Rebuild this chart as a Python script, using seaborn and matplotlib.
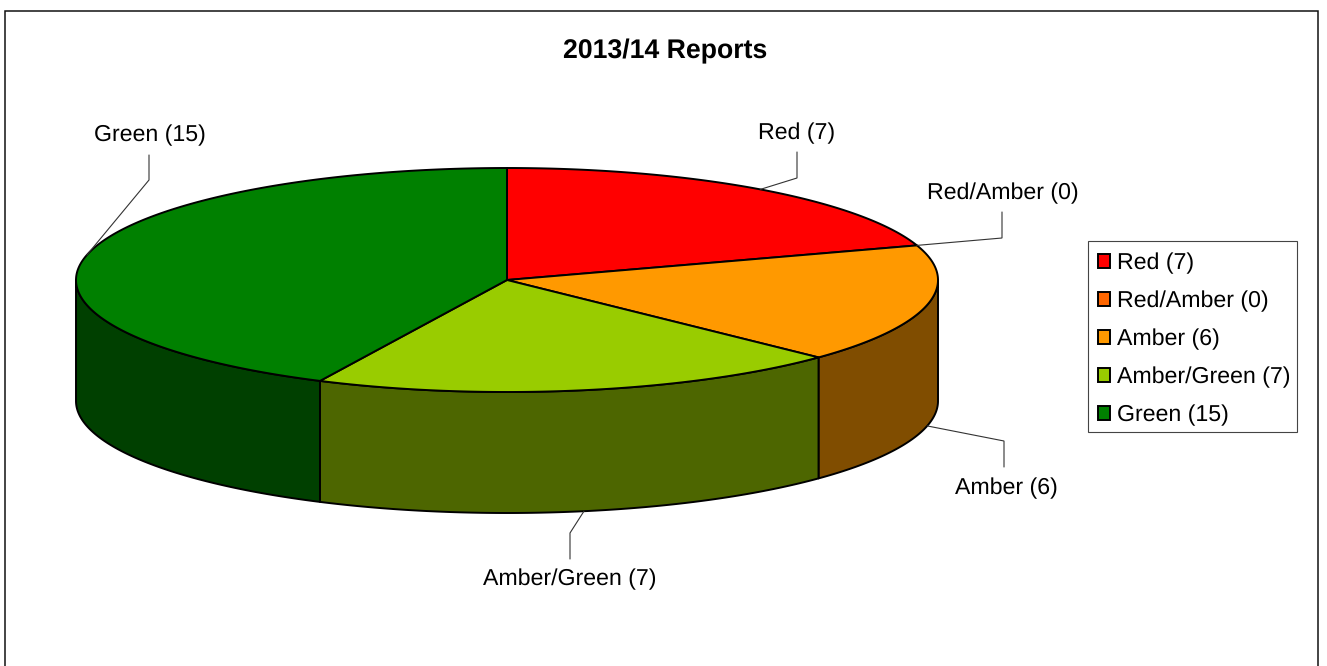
import numpy as np
import matplotlib
matplotlib.use("Agg")
import matplotlib.pyplot as plt
from matplotlib.patches import Patch, Polygon, Rectangle
import seaborn as sns

# Report counts by RAG status
categories = ["Red", "Red/Amber", "Amber", "Amber/Green", "Green"]
counts = [7, 0, 6, 7, 15]
slice_hex = ["#FF0000", "#FF6600", "#FF9900", "#99CC00", "#008000"]
title_text = "2013/14 Reports"

sns.set_theme(style="white")
plt.rcParams["font.family"] = ["Liberation Sans", "DejaVu Sans"]
plt.rcParams["text.hinting"] = "none"

palette = sns.color_palette(slice_hex)
labels = [f"{c} ({n})" for c, n in zip(categories, counts)]

# Canvas is addressed in pixels, y downwards
fig = plt.figure(figsize=(13.27, 6.66), dpi=100)
ax = fig.add_axes([0, 0, 1, 1])
ax.set_xlim(0, 1327)
ax.set_ylim(666, 0)
ax.axis("off")

# Disc geometry of the tilted pie
CX, CY, RX, RY, DEPTH = 507, 280, 431, 112, 121
EDGE_LW = 1.4
FONT_SIZE = 16.7


def rim(deg, drop=0.0):
    """Points on the ellipse for clockwise angles measured from 12 o'clock."""
    rad = np.radians(deg)
    return np.column_stack([CX + RX * np.sin(rad), CY - RY * np.cos(rad) + drop])


shares = np.array(counts, dtype=float) / sum(counts) * 360
ends = np.cumsum(shares)
starts = ends - shares

# Outer walls: only the part of the rim between 3 and 9 o'clock faces the viewer
for start, end, colour in zip(starts, ends, palette):
    lo, hi = max(start, 90), min(end, 270)
    if hi <= lo:
        continue
    arc = np.linspace(lo, hi, 120)
    outline = np.vstack([rim(arc), rim(arc[::-1], DEPTH)])
    dark = tuple(0.5 * v for v in colour)
    ax.add_patch(Polygon(outline, closed=True, facecolor=dark, edgecolor="black",
                         linewidth=EDGE_LW, joinstyle="round", zorder=2))

# Top faces
for start, end, colour in zip(starts, ends, palette):
    if end <= start:
        continue
    arc = np.linspace(start, end, 200)
    outline = np.vstack([[CX, CY], rim(arc)])
    ax.add_patch(Polygon(outline, closed=True, facecolor=colour, edgecolor="black",
                         linewidth=EDGE_LW, joinstyle="round", zorder=3))

# Callouts: elbow and text anchor for each slice, leader starts at the slice middle
elbows = [(797, 178), (1002, 238), (1004, 441), (570, 533), (149, 180)]
stems = [152, 212, 467, 559, 155]
text_xy = [(797, 133), (1003, 193), (1006, 488), (570, 579), (150, 135)]

for i, label in enumerate(labels):
    mid = (starts[i] + ends[i]) / 2
    drop = DEPTH if 90 < mid < 270 else 0
    px, py = rim(np.array([mid]), drop)[0]
    ex, ey = elbows[i]
    ax.plot([px, ex, ex], [py, ey, stems[i]], color="#333333", lw=0.8,
            solid_joinstyle="miter", zorder=4)
    ax.text(*text_xy[i], label, ha="center", va="center", fontsize=FONT_SIZE,
            color="black", zorder=5)

ax.text(665, 51, title_text, ha="center", va="center", fontsize=19.2,
        fontweight="bold", color="black")

# Frame around the chart area, open along the bottom
ax.plot([5, 5, 1318, 1318], [666, 10.5, 10.5, 666], color="#111111", lw=1.1,
        solid_joinstyle="miter", zorder=1, clip_on=False)

# Legend box with the swatch column inset from its left edge
ax.add_patch(Rectangle((1088, 241), 209, 191, facecolor="white", edgecolor="#444444",
                       linewidth=0.8, zorder=6))
handles = [Patch(facecolor=c, edgecolor="black", linewidth=1.4) for c in palette]
leg = ax.legend(handles, labels, loc="upper left",
                bbox_to_anchor=(1092.5 / 1327, 1 - 252.5 / 666),
                bbox_transform=fig.transFigure,
                fontsize=FONT_SIZE, frameon=False, borderaxespad=0, borderpad=0,
                labelspacing=0.71, handlelength=0.95, handleheight=0.56,
                handletextpad=0.1, labelcolor="black")
leg.set_zorder(7)
for swatch in leg.get_patches():
    swatch.set_x(4.0)
    swatch.set_width(8.6)

fig.savefig("out.png", dpi=100, facecolor="white")
